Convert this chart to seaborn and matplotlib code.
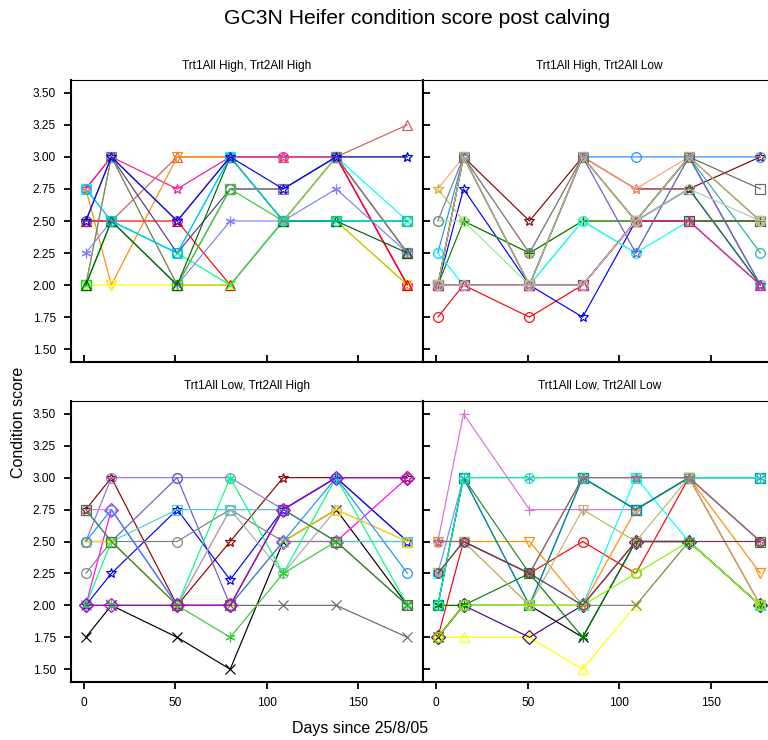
import matplotlib
matplotlib.use("Agg")
import matplotlib.pyplot as plt
import pandas as pd
import seaborn as sns

# Sampling days after 25/8/05
days = [1, 15, 51, 80, 109, 138, 177]

panel_titles = [
    "Trt1All High, Trt2All High",
    "Trt1All High, Trt2All Low",
    "Trt1All Low, Trt2All High",
    "Trt1All Low, Trt2All Low",
]

y_ticks = [1.50, 1.75, 2.00, 2.25, 2.50, 2.75, 3.00, 3.25, 3.50]
y_tick_labels = ["1.50", "1.75", "2.00", "2.25", "2.50", "2.75", "3.00", "3.25", "3.50"]
x_ticks = [0, 50, 100, 150]
x_tick_labels = ["0", "50", "100", "150"]

# Condition scores per heifer, one row per animal
hh_scores = [
    [2.75, 3.00, 2.50, 3.00, 3.00, 3.00, 2.00],
    [2.75, 3.00, 2.75, 3.00, 3.00, 3.00, 2.00],
    [2.50, 2.50, 3.00, 3.00, 3.00, 3.00, 3.25],
    [2.75, 2.00, 3.00, 3.00, 2.50, 3.00, 2.25],
    [2.00, 2.00, 2.00, 2.00, 2.50, 2.50, 2.00],
    [2.00, 3.00, 2.00, 2.00, 2.50, 2.50, 2.00],
    [2.50, 2.50, 2.50, 2.00, 2.50, 3.00, 2.00],
    [2.75, 2.50, 2.25, 3.00, 2.50, 3.00, 2.50],
    [2.00, 2.50, 2.25, 2.00, 2.50, 2.50, 2.50],
    [2.50, 3.00, 2.25, 2.75, 2.75, 3.00, 2.25],
    [2.00, 3.00, 2.00, 2.75, 2.75, 3.00, 2.25],
    [2.25, 2.50, 2.00, 2.50, 2.50, 2.75, 2.25],
    [2.00, 2.50, 2.00, 2.75, 2.50, 2.50, 2.50],
    [2.00, 2.50, 2.00, 3.00, 2.50, 2.50, 2.25],
    [2.50, 3.00, 2.50, 3.00, 2.50, 3.00, 3.00],
    [2.75, 2.50, 2.25, 3.00, 2.50, 2.50, 2.50],
    [2.50, 3.00, 2.50, 3.00, 2.75, 3.00, 3.00],
]
hl_scores = [
    [2.00, 2.00, 2.00, 2.00, 2.50, 3.00, 2.00],
    [1.75, 2.00, 1.75, 2.00, 2.50, 2.50, 2.00],
    [2.00, 2.75, 2.00, 1.75, 2.50, 2.75, 2.00],
    [2.00, 3.00, 2.50, 3.00, 2.75, 2.75, 3.00],
    [2.25, 3.00, 2.00, 3.00, 3.00, 3.00, 3.00],
    [2.75, 3.00, 2.25, 3.00, 2.75, 3.00, 2.50],
    [2.75, 2.50, 2.25, 2.50, 2.50, 2.50, 2.50],
    [2.00, 2.50, 2.25, 2.50, 2.50, 2.50, 2.50],
    [2.50, 2.50, 2.00, 2.50, 2.25, 3.00, 2.00],
    [2.25, 2.00, 2.00, 2.50, 2.25, 2.50, 2.00],
    [2.00, 2.00, 2.00, 3.00, 2.50, 3.00, 2.25],
    [2.00, 2.00, 2.00, 2.00, 2.50, 2.50, 2.50],
    [2.50, 3.00, 2.25, 3.00, 2.50, 3.00, 2.50],
    [2.00, 3.00, 2.00, 3.00, 2.25, 3.00, 2.00],
    [2.00, 3.00, 2.00, 3.00, 2.50, 3.00, 2.75],
    [2.00, 2.00, 2.00, 2.00, 2.50, 2.75, 2.00],
    [2.00, 2.00, 2.00, 2.00, 2.50, 2.50, 2.00],
    [2.00, 3.00, 2.00, 3.00, 2.50, 3.00, 2.50],
    [2.00, 2.00, 2.00, 2.00, 2.50, 2.75, 2.50],
]
lh_scores = [
    [1.75, 2.00, 1.75, 1.50, 2.50, 2.75, 2.00],
    [2.00, 2.00, 2.00, 2.00, 2.00, 2.00, 1.75],
    [2.75, 3.00, 2.00, 2.50, 3.00, 3.00, 3.00],
    [2.50, 3.00, 3.00, 3.00, 2.75, 3.00, 3.00],
    [2.50, 2.50, 3.00, 2.00, 2.75, 3.00, 2.50],
    [2.00, 2.25, 2.75, 2.20, 2.75, 3.00, 2.50],
    [2.00, 2.75, 2.00, 2.00, 2.50, 2.50, 3.00],
    [2.75, 2.75, 2.00, 2.75, 2.75, 2.50, 2.00],
    [2.25, 2.50, 2.50, 2.75, 2.50, 2.50, 2.50],
    [2.50, 2.50, 2.00, 2.75, 2.25, 2.75, 2.50],
    [2.75, 2.50, 2.75, 2.75, 2.75, 2.50, 2.50],
    [2.00, 2.50, 2.00, 3.00, 2.25, 3.00, 2.00],
    [2.00, 2.00, 2.00, 1.75, 2.25, 2.50, 2.00],
    [2.50, 2.50, 2.00, 2.00, 2.50, 2.75, 2.50],
    [2.50, 2.75, 2.00, 2.00, 2.50, 3.00, 2.25],
    [2.75, 2.50, 2.00, 2.00, 2.75, 2.50, 2.00],
    [2.00, 2.00, 2.00, 2.00, 2.75, 3.00, 3.00],
]
ll_scores = [
    [2.50, 3.50, 2.75, 2.75, 2.75, 3.00, 2.50],
    [2.25, 3.00, 3.00, 3.00, 3.00, 3.00, 3.00],
    [1.75, 1.75, 1.75, 1.50, 2.00, 2.50, 2.00],
    [1.75, 2.00, 1.75, 2.00, 2.50, 2.50, 2.00],
    [1.75, 2.00, 2.00, 1.75, 2.50, 2.50, 2.00],
    [2.00, 2.00, 2.00, 2.00, 2.00, 2.50, 2.00],
    [1.75, 2.50, 2.25, 2.50, 2.25, 3.00, 2.00],
    [2.50, 2.50, 2.50, 2.00, 2.75, 3.00, 2.25],
    [2.25, 2.50, 2.25, 2.00, 3.00, 2.50, 2.00],
    [2.00, 3.00, 2.00, 3.00, 2.75, 3.00, 3.00],
    [2.00, 3.00, 2.25, 3.00, 2.75, 3.00, 2.50],
    [2.00, 2.00, 2.25, 1.75, 2.50, 2.50, 2.00],
    [2.00, 3.00, 2.00, 3.00, 2.75, 3.00, 3.00],
    [2.00, 3.00, 3.00, 3.00, 3.00, 3.00, 3.00],
    [2.50, 2.50, 2.00, 2.00, 2.50, 2.50, 2.00],
    [2.25, 2.50, 2.00, 2.75, 2.50, 3.00, 2.00],
    [1.75, 2.00, 2.00, 2.00, 2.25, 2.50, 2.00],
    [2.50, 2.50, 2.25, 3.00, 3.00, 3.00, 2.50],
    [2.25, 2.50, 2.25, 2.00, 2.50, 2.50, 2.50],
]

# Line colours and symbols for each animal
ASTER = (6, 2, 0)
hh_colors = ["magenta", "deeppink", "indianred", "darkorange", "yellow", "#b8c000", "red",
             "cyan", "springgreen", "#5a3a7a", "gray", "#8080ff", "limegreen",
             "darkgreen", "yellowgreen", "deepskyblue", "blue"]
hh_markers = ["o", "*", "^", "v", "v", "^", "^", "s", "x", "o", "s", ASTER, "s", "^",
              "*", "o", "*"]
hl_colors = ["darkviolet", "red", "blue", "darkred", "dodgerblue", "lightsalmon",
             "#c8c040", "green", "lightgreen", "cyan", "lightseagreen", "#5a5030",
             "slategray", "slateblue", "dimgray", "forestgreen", "deeppink", "darkkhaki",
             "silver"]
hl_markers = ["o", "o", "*", "*", "o", "*", "*", "+", "o", "o", "o", "s", "o", "*",
              "s", "^", "^", "v", "o"]
lh_colors = ["black", "dimgray", "darkred", "mediumpurple", "slateblue", "blue", "magenta",
             "violet", "gray", "darkgray", "mediumturquoise", "springgreen", "limegreen",
             "gold", "dodgerblue", "#4a7a3a", "#b000d0"]
lh_markers = ["x", "x", "*", "o", "o", "*", "D", "o", "o", "o", "s", ASTER, ASTER,
              "^", "o", "s", "D"]
ll_colors = ["orchid", "cornflowerblue", "yellow", "indigo", "black", "gray", "red",
             "darkorange", "cyan", "dodgerblue", "forestgreen", "green", "darkcyan",
             "mediumspringgreen", "tan", "darkkhaki", "lawngreen", "#b06080", "#7a3050"]
ll_markers = ["+", ASTER, "^", "D", "x", "x", "o", "v", "s", "o", "s", ASTER, "s",
              "o", "o", "v", "o", "*", "h"]

all_scores = [hh_scores, hl_scores, lh_scores, ll_scores]
all_colors = [hh_colors, hl_colors, lh_colors, ll_colors]
all_markers = [hh_markers, hl_markers, lh_markers, ll_markers]

rows = []
for title, scores in zip(panel_titles, all_scores):
    for i, s in enumerate(scores):
        for d, v in zip(days, s):
            rows.append((title, i, d, v))
df = pd.DataFrame(rows, columns=["panel", "animal", "day", "score"])

sns.set_theme(style="ticks")
plt.rcParams["font.family"] = ["Liberation Sans", "DejaVu Sans"]

W, H = 768, 740
fig = plt.figure(figsize=(W / 100, H / 100), dpi=100)


def box(x0, y0, x1, y1):
    return [x0 / W, 1 - y1 / H, (x1 - x0) / W, (y1 - y0) / H]


positions = [box(71, 80, 423, 362), box(423, 80, 776, 362),
             box(71, 401, 423, 682), box(423, 401, 776, 682)]

for k, (title, pos) in enumerate(zip(panel_titles, positions)):
    r, c = divmod(k, 2)
    ax = fig.add_axes(pos)
    sub = df[df["panel"] == title]
    for i, (color, marker) in enumerate(zip(all_colors[k], all_markers[k])):
        sns.lineplot(data=sub[sub["animal"] == i], x="day", y="score", ax=ax,
                     color=color, marker=marker, markersize=7,
                     markerfacecolor="none", markeredgecolor=color,
                     markeredgewidth=0.85, linewidth=0.85, errorbar=None,
                     estimator=None, legend=False, clip_on=False)
    ax.set_xlim(-7.1, 185.5)
    ax.set_ylim(1.40, 3.60)
    ax.set_xlabel("")
    ax.set_ylabel("")
    ax.set_yticks(y_ticks)
    ax.set_xticks(x_ticks)
    ax.set_yticklabels(y_tick_labels if c == 0 else [])
    ax.set_xticklabels(x_tick_labels if r == 1 else [])
    ax.tick_params(axis="y", direction="out" if c == 0 else "in", length=5,
                   width=1.3, labelsize=8.6, pad=6, colors="black",
                   left=True, right=False)
    ax.tick_params(axis="x", direction="out" if r == 1 else "in", length=5,
                   width=1.3, labelsize=8.6, pad=6, colors="black",
                   bottom=True, top=False)
    for name, sp in ax.spines.items():
        sp.set_visible(True)
        sp.set_color("black")
        sp.set_linewidth(0.8 if name == "top" else 1.5)
    ax.set_facecolor("white")
    cx = (pos[0] + pos[2] / 2)
    ty = 66 if r == 0 else 386
    fig.text(cx, 1 - ty / H, title, ha="center", va="center", fontsize=8.6,
             color="black")

fig.text(417 / W, 1 - 19 / H, "GC3N Heifer condition score post calving",
         ha="center", va="center", fontsize=15.2, color="black")
fig.text(360 / W, 1 - 728 / H, "Days since 25/8/05", ha="center", va="center",
         fontsize=11.5, color="black")
fig.text(19 / W, 1 - 422 / H, "Condition score", ha="center", va="center",
         rotation=90, fontsize=11.5, color="black")

fig.savefig("out.png", dpi=100, facecolor="white")
